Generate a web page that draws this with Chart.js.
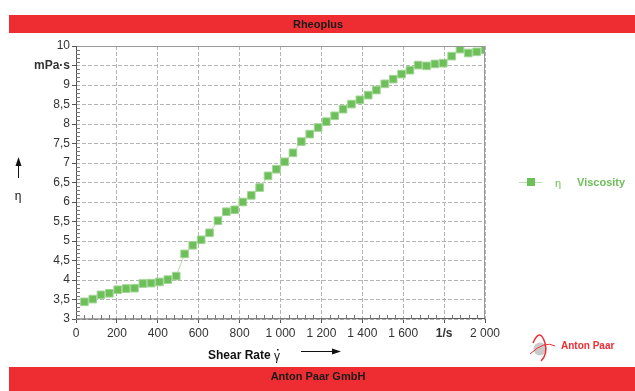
<!DOCTYPE html>
<html>
<head>
<meta charset="utf-8">
<script src="https://cdn.jsdelivr.net/npm/chart.js@4"></script>
<style>
  html, body { margin: 0; padding: 0; background: #fff; }
  #wrap { width: 635px; height: 391px; position: relative; }
</style>
</head>
<body>
<div id="wrap"><canvas id="rheo"></canvas></div>
<script>
// Shear rate (1/s) and viscosity (mPa·s)
var shearRate = [41, 82, 122, 163, 204, 245, 286, 327, 367, 408, 449, 490, 531, 571, 612, 653,
    694, 735, 776, 816, 857, 898, 939, 980, 1020, 1061, 1102, 1143, 1184, 1224, 1265, 1306,
    1347, 1388, 1429, 1469, 1510, 1551, 1592, 1633, 1673, 1714, 1755, 1796, 1837, 1878, 1918,
    1959, 2000];
var viscosity = [3.44, 3.51, 3.62, 3.66, 3.75, 3.78, 3.79, 3.91, 3.92, 3.95, 4.01, 4.10, 4.67,
    4.89, 5.03, 5.21, 5.52, 5.75, 5.80, 6.00, 6.17, 6.37, 6.67, 6.84, 7.03, 7.26, 7.55, 7.74,
    7.91, 8.06, 8.21, 8.38, 8.51, 8.62, 8.74, 8.87, 9.03, 9.15, 9.28, 9.38, 9.51, 9.49, 9.54,
    9.56, 9.74, 9.92, 9.82, 9.85, 9.90];
var xTicks = [0, 200, 400, 600, 800, 1000, 1200, 1400, 1600, 1800, 2000];
var yTicks = [3, 3.5, 4, 4.5, 5, 5.5, 6, 6.5, 7, 7.5, 8, 8.5, 9, 9.5, 10];

var green = '#6cbf59';
var red = '#ee2d33';
var font = '"Liberation Sans", Arial, sans-serif';

function fmtX(v) {
    if (v === 1800) return '1/s';
    return String(v).replace(/\B(?=(\d{3})+(?!\d))/g, ' ');
}
function fmtY(v) {
    if (v === 9.5) return 'mPa·s';
    return String(v).replace('.', ',');
}

var points = shearRate.map(function (x, i) { return { x: x, y: viscosity[i] }; });

// bands, frame, minor ticks, titles, legend and logo
var decor = {
    id: 'decor',
    beforeDraw: function (chart) {
        var ctx = chart.ctx;
        ctx.save();
        ctx.fillStyle = '#fff';
        ctx.fillRect(0, 0, chart.width, chart.height);
        ctx.restore();
    },
    afterDraw: function (chart) {
        var ctx = chart.ctx, a = chart.chartArea;
        var xs = chart.scales.x, ys = chart.scales.y;
        ctx.save();

        // red bands
        ctx.fillStyle = red;
        ctx.fillRect(9, 15, 626, 18);
        ctx.fillRect(9, 367, 626, 24);
        ctx.fillStyle = '#1a1a1a';
        ctx.font = 'bold 11px ' + font;
        ctx.textAlign = 'center';
        ctx.textBaseline = 'middle';
        ctx.fillText('Rheoplus', 318, 24.5);
        ctx.fillText('Anton Paar GmbH', 318, 377);

        // frame
        ctx.strokeStyle = '#999';
        ctx.lineWidth = 1;
        ctx.beginPath();
        ctx.moveTo(a.left, a.top + 0.5); ctx.lineTo(a.right, a.top + 0.5);
        ctx.moveTo(a.right - 0.5, a.top); ctx.lineTo(a.right - 0.5, a.bottom);
        ctx.stroke();
        ctx.strokeStyle = '#555';
        ctx.beginPath();
        ctx.moveTo(a.left + 0.5, a.top); ctx.lineTo(a.left + 0.5, a.bottom);
        ctx.lineTo(a.right, a.bottom - 0.5);
        ctx.stroke();

        // minor ticks
        ctx.strokeStyle = '#777';
        ctx.beginPath();
        var v, p;
        for (v = 30; v <= 100; v++) {
            if (v % 5 === 0) continue;
            p = Math.round(ys.getPixelForValue(v / 10)) + 0.5;
            ctx.moveTo(a.left, p); ctx.lineTo(a.left + 4, p);
        }
        for (v = 0; v <= 2000; v += 40) {
            if (v % 200 === 0) continue;
            p = Math.round(xs.getPixelForValue(v)) + 0.5;
            ctx.moveTo(p, a.bottom); ctx.lineTo(p, a.bottom - 4);
        }
        ctx.stroke();

        // axis titles with arrows
        ctx.fillStyle = '#111';
        ctx.strokeStyle = '#111';
        ctx.font = '12px ' + font;
        ctx.textAlign = 'center';
        ctx.fillText('η', 18, 197);
        ctx.beginPath();
        ctx.moveTo(18.5, 178); ctx.lineTo(18.5, 163); ctx.stroke();
        ctx.beginPath();
        ctx.moveTo(18.5, 157); ctx.lineTo(15.5, 166); ctx.lineTo(21.5, 166); ctx.closePath(); ctx.fill();

        ctx.font = 'bold 12px ' + font;
        ctx.textAlign = 'left';
        ctx.fillText('Shear Rate ', 208, 356);
        var w = ctx.measureText('Shear Rate ').width;
        ctx.font = '12px ' + font;
        ctx.fillText('γ', 208 + w, 357);
        ctx.fillRect(208 + w + 3, 349, 1.5, 1.5);
        ctx.beginPath();
        ctx.moveTo(301, 351.5); ctx.lineTo(333, 351.5); ctx.stroke();
        ctx.beginPath();
        ctx.moveTo(341, 351.5); ctx.lineTo(332, 348.5); ctx.lineTo(332, 354.5); ctx.closePath(); ctx.fill();

        // legend
        ctx.strokeStyle = '#b5deaa';
        ctx.beginPath();
        ctx.moveTo(519, 182.5); ctx.lineTo(542, 182.5); ctx.stroke();
        ctx.fillStyle = green;
        ctx.fillRect(527, 178, 8, 8);
        ctx.font = '11px ' + font;
        ctx.fillText('η', 555, 184);
        ctx.font = 'bold 11px ' + font;
        ctx.fillText('Viscosity', 577, 183);

        // logo
        ctx.fillStyle = '#c9c9c9';
        ctx.beginPath();
        ctx.arc(540, 349, 6.5, 0, Math.PI * 2);
        ctx.fill();
        ctx.strokeStyle = red;
        ctx.lineWidth = 1.5;
        ctx.beginPath();
        ctx.moveTo(533, 343);
        ctx.quadraticCurveTo(540, 327, 545, 343);
        ctx.quadraticCurveTo(548, 354, 541, 361);
        ctx.stroke();
        ctx.lineWidth = 1;
        ctx.beginPath();
        ctx.moveTo(530, 354);
        ctx.quadraticCurveTo(545, 340, 555, 346);
        ctx.stroke();
        ctx.fillStyle = red;
        ctx.font = 'bold 10px ' + font;
        ctx.textAlign = 'left';
        ctx.fillText('Anton Paar', 561, 346);

        ctx.restore();
    }
};

new Chart(document.getElementById('rheo'), {
    type: 'scatter',
    data: {
        datasets: [{
            label: 'Viscosity',
            data: points,
            showLine: true,
            borderColor: '#b5deaa',
            borderWidth: 1,
            pointStyle: 'rect',
            pointRadius: 5.4,
            pointBackgroundColor: green,
            pointBorderColor: '#a3d596',
            pointBorderWidth: 1
        }]
    },
    options: {
        responsive: true,
        maintainAspectRatio: false,
        animation: false,
        layout: { padding: { left: 0, right: 150, top: 46, bottom: 42 } },
        plugins: { legend: { display: false }, tooltip: { enabled: false } },
        scales: {
            x: {
                type: 'linear',
                min: 0, max: 2000,
                afterBuildTicks: function (s) { s.ticks = xTicks.map(function (v) { return { value: v }; }); },
                afterFit: function (s) { s.height = 30; },
                border: { display: false, dash: [4, 2] },
                grid: { color: '#b4b4b4', tickColor: '#555', tickLength: 4, tickBorderDash: [] },
                ticks: {
                    color: '#333', padding: 3,
                    font: function (c) { return { family: font, size: 12, weight: c.tick && c.tick.value === 1800 ? 'bold' : 'normal' }; },
                    callback: function (v) { return fmtX(v); },
                    maxRotation: 0, autoSkip: false
                }
            },
            y: {
                type: 'linear',
                min: 3, max: 10,
                afterBuildTicks: function (s) { s.ticks = yTicks.map(function (v) { return { value: v }; }); },
                afterFit: function (s) { s.width = 76; },
                border: { display: false, dash: [4, 2] },
                grid: { color: '#b4b4b4', tickColor: '#555', tickLength: 4, tickBorderDash: [] },
                ticks: {
                    color: '#333', padding: 2,
                    font: function (c) { return { family: font, size: 12, weight: c.tick && c.tick.value === 9.5 ? 'bold' : 'normal' }; },
                    callback: function (v) { return fmtY(v); },
                    autoSkip: false
                }
            }
        }
    },
    plugins: [decor]
});
</script>
</body>
</html>
